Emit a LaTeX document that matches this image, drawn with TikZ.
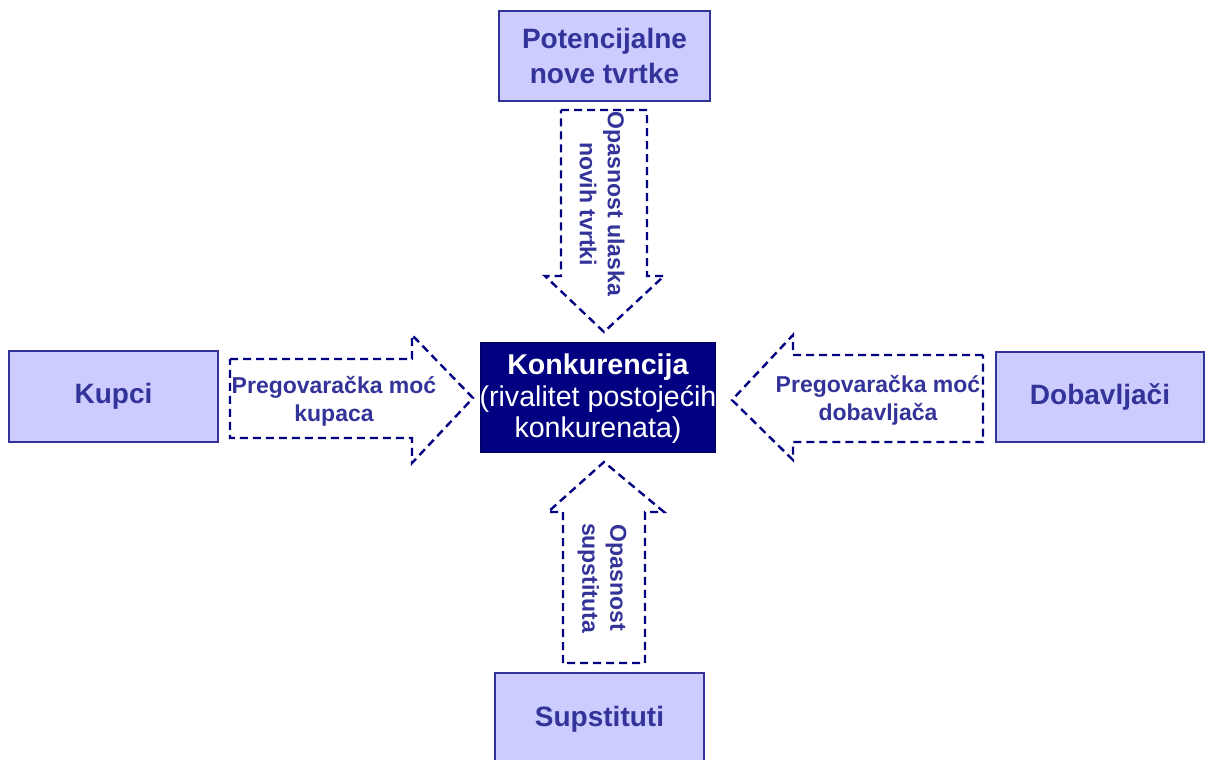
\documentclass[tikz,border=0pt]{standalone}
\usepackage{fontspec}
\setmainfont{Liberation Sans}
\usetikzlibrary{positioning}
\definecolor{boxfill}{RGB}{204,204,255}
\definecolor{boxtext}{RGB}{51,51,153}
\definecolor{navyline}{RGB}{0,0,128}
\tikzset{
    force/.style={draw=boxtext, fill=boxfill, line width=0.6pt, text=boxtext, font=\fontsize{14}{17.5}\selectfont\bfseries, align=center, inner sep=0pt, minimum width=104.5pt, minimum height=45pt},
    pressure/.style={draw=navyline, line width=1.2pt, dash pattern=on 4pt off 2.5pt},
    pressuretext/.style={text=boxtext, font=\fontsize{11.5}{14}\selectfont\bfseries, align=center, inner sep=0pt}
}

\begin{document}
\begin{tikzpicture}[x=0.5pt, y=-0.5pt]

        \clip (0,0) rectangle (1205,760);

        % rivalitet u sredini
        \node[fill=navyline, draw=navyline!70!black, inner sep=0pt, minimum width=117.5pt, minimum height=55pt] (konk) at (597.5,397) {};
        \node[text=white, align=center, inner sep=0pt, font=\fontsize{14.3}{15.75}\selectfont] (konktekst) at (598,399) {\textbf{Konkurencija}\\(rivalitet postojećih\\konkurenata)};

        % cetiri sile
        \node[force, minimum width=105.5pt] (nove) at (604.5,56) {Potencijalne\\nove tvrtke};
        \node[force, minimum height=45.5pt] (kupci) at (113.5,396.5) {Kupci};
        \node[force, minimum width=104pt] (dob) at (1100,397) {Dobavljači};
        \node[force, minimum height=46pt] (sup) at (599.5,719) {Supstituti};

        % strelice
        \draw[pressure] (561,110) -- (647,110) -- (647,276) -- (664,276) -- (604,332) -- (545,276) -- (561,276) -- cycle;
        \draw[pressure] (230,359) -- (412,359) -- (412,335) -- (473,398) -- (412,463) -- (412,438) -- (230,438) -- cycle;
        \draw[pressure] (983,355) -- (793,355) -- (793,335) -- (732,400) -- (793,460) -- (793,442) -- (983,442) -- cycle;
        \draw[pressure] (563,663) -- (563,512) -- (548,512) -- (604,462) -- (664,512) -- (645,512) -- (645,663) -- cycle;

        \node[pressuretext, rotate=-90] (ulaz) at (602,204) {Opasnost ulaska\\novih tvrtki};
        \node[pressuretext] (mockup) at (334,401) {Pregovaračka moć\\kupaca};
        \node[pressuretext] (mocdob) at (878,400) {Pregovaračka moć\\dobavljača};
        \node[pressuretext, rotate=-90] (zamjena) at (602,578) {Opasnost\\supstituta};

    \end{tikzpicture}
\end{document}
